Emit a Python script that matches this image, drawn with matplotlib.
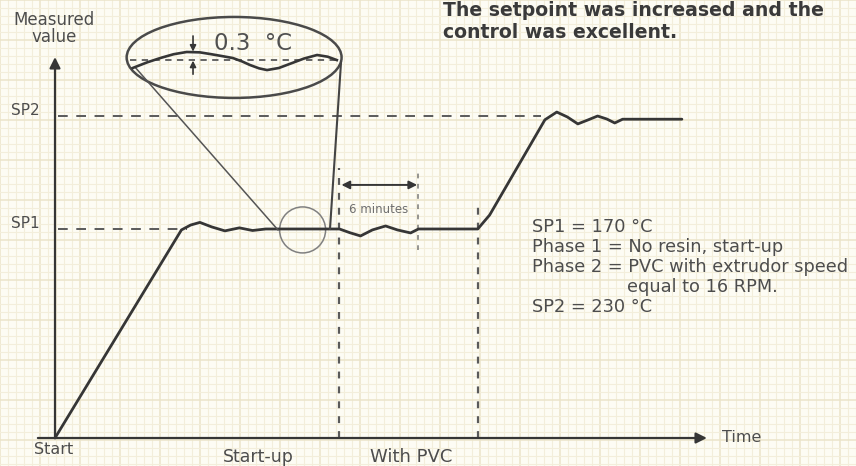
import matplotlib
matplotlib.use("Agg")
import matplotlib.pyplot as plt
from matplotlib.patches import Ellipse
from matplotlib.ticker import MultipleLocator

# ---------------- data (time in minutes, value in °C) ----------------
sp1 = 170
sp2 = 230
sp_labels = ["SP1", "SP2"]

t_curve = [0, 9.6, 10.3, 11.0, 11.9, 12.9, 14.0, 15.0, 16.0, 21.6, 22.4, 23.2,
           24.1, 25.1, 26.0, 27.0, 27.6, 32.1, 33.0, 37.2, 38.1, 38.9, 39.7,
           40.5, 41.2, 41.9, 42.5, 43.1, 47.6]
y_curve = [59, 169.5, 172.1, 173.5, 171.1, 169.0, 170.6, 169.2, 170, 170, 168.0,
           166.3, 169.5, 171.6, 169.5, 167.9, 170, 170, 177.4, 228, 232.1, 229.5,
           225.8, 228, 230.0, 228.4, 226.3, 228.3, 228.3]

# magnified detail (drawn inside the ellipse)
zoom_t = [5.9, 7.0, 8.0, 9.0, 10.0, 11.0, 11.8, 12.7, 13.5, 14.2, 14.8, 15.5,
          16.1, 17.0, 17.8, 18.9, 19.9, 20.7, 21.4]
zoom_y = [255.5, 258.5, 260.8, 262.8, 264.0, 263.8, 262.9, 261.8, 260.8, 259.0,
          257.1, 255.3, 254.4, 255.5, 257.6, 260.5, 262.4, 261.5, 259.7]
zoom_base = 259.7
zoom_span = [5.7, 21.4]
amp_label = "0.3  °C"

origin_value = 59
t_pvc = 21.6          # start of PVC phase
t_six = 27.6          # 6 minutes later
t_step = 32.1         # setpoint increased

notes = ["SP1 = 170 °C",
         "Phase 1 = No resin, start-up",
         "Phase 2 = PVC with extrudor speed",
         "equal to 16 RPM.",
         "SP2 = 230 °C"]
notes_x = [532, 532, 532, 627, 532]
title_lines = ["The setpoint was increased and the", "control was excellent."]

# ---------------- figure ----------------
W, H = 856, 466
fig = plt.figure(figsize=(W / 100, H / 100), dpi=100)

# graph paper background
bg = fig.add_axes([0, 0, 1, 1])
bg.set_xlim(0, W)
bg.set_ylim(H, 0)
bg.set_facecolor("#fdfcf4")
bg.xaxis.set_major_locator(MultipleLocator(40))
bg.yaxis.set_major_locator(MultipleLocator(40))
bg.xaxis.set_minor_locator(MultipleLocator(8))
bg.yaxis.set_minor_locator(MultipleLocator(8))
bg.grid(which="minor", color="#f3eedb", lw=0.8)
bg.grid(which="major", color="#ebe4c9", lw=1.1)
bg.tick_params(which="both", length=0, labelbottom=False, labelleft=False)
for s in bg.spines.values():
    s.set_visible(False)

# main drawing axes (data coordinates)
px_per_t = 13.17
px_per_v = 1.883
x0_px, y0_px = 55, 438
ax = fig.add_axes([0, 0, 1, 1])
ax.set_xlim(-x0_px / px_per_t, (W - x0_px) / px_per_t)
ax.set_ylim(origin_value - (H - y0_px) / px_per_v, origin_value + y0_px / px_per_v)
ax.patch.set_alpha(0)
ax.axis("off")

ink = "#363636"
dash_ink = "#5a5a5a"
txt = "#4d4d4d"
light = "#6e6e6e"

# axes with arrows
t_end = 49.5
v_top = 261.3
ax.annotate("", xy=(t_end, origin_value), xytext=(-1.3, origin_value),
            arrowprops=dict(arrowstyle="-|>", color=ink, lw=1.6, mutation_scale=16,
                            shrinkA=0, shrinkB=0))
ax.annotate("", xy=(0, v_top), xytext=(0, origin_value),
            arrowprops=dict(arrowstyle="-|>", color=ink, lw=1.6, mutation_scale=16,
                            shrinkA=0, shrinkB=0))

# setpoint dashed lines
ax.plot([0.25, 36.9], [sp2, sp2], ls=(0, (5, 4.4)), color=dash_ink, lw=1.4)
ax.plot([0.25, 10.0], [sp1, sp1], ls=(0, (5, 4.4)), color=dash_ink, lw=1.4)

# phase separators
vdash = (0, (3.1, 3.6))
ax.plot([t_pvc, t_pvc], [origin_value, 202.4], ls=vdash, color=dash_ink, lw=1.6)
ax.plot([t_six, t_six], [158.8, 200.3], ls=vdash, color=dash_ink, lw=1.1, alpha=0.8)
ax.plot([t_step, t_step], [origin_value, 185.4], ls=vdash, color=dash_ink, lw=1.6)

# 6 minutes arrow
ax.annotate("", xy=(t_six - 0.1, 193.4), xytext=(t_pvc + 0.15, 193.4),
            arrowprops=dict(arrowstyle="<|-|>", color=ink, lw=1.4, mutation_scale=12,
                            shrinkA=0, shrinkB=0))
ax.text((t_pvc + t_six) / 2, 180.6, "6 minutes", fontsize=8.5, color=light,
        ha="center", va="center")

# measured curve
ax.plot(t_curve, y_curve, color=ink, lw=2.0, solid_joinstyle="round",
        solid_capstyle="round")

# small circle and magnifier ellipse
ax.add_patch(Ellipse((18.8, 169.5), 46 / px_per_t, 46 / px_per_v, fill=False,
                     ec="#808080", lw=1.1))
ax.add_patch(Ellipse((13.6, 261.1), 16.32, 43.0, fill=False, ec="#4a4a4a", lw=1.8))
ax.plot([6.07, 16.93], [256.0, 169.5], color="#555555", lw=1.1)
ax.plot([21.72, 20.88], [258.7, 170.0], color="#444444", lw=1.5)

ax.plot(zoom_span, [zoom_base, zoom_base], ls=(0, (3.5, 3)), color=dash_ink, lw=1.3)
ax.plot(zoom_t, zoom_y, color=ink, lw=1.9, solid_joinstyle="round")
ax.annotate("", xy=(10.48, 264.2), xytext=(10.48, 272.5),
            arrowprops=dict(arrowstyle="-|>", color=ink, lw=1.2, mutation_scale=9,
                            shrinkA=0, shrinkB=0))
ax.annotate("", xy=(10.48, 259.4), xytext=(10.48, 252.2),
            arrowprops=dict(arrowstyle="-|>", color=ink, lw=1.2, mutation_scale=9,
                            shrinkA=0, shrinkB=0))
ax.text(12.05, 268.6, amp_label, fontsize=16.5, color="#505050", ha="left", va="center")

# axis texts
ax.text(-1.2, sp2 + 3, sp_labels[1], fontsize=11, color=txt, ha="right", va="center")
ax.text(-1.2, sp1 + 3, sp_labels[0], fontsize=11, color=txt, ha="right", va="center")


def fx(px):
    return px / W


def fy(py):
    return 1 - py / H


fig.text(fx(54), fy(20), "Measured", fontsize=12, color=txt, ha="center", va="center")
fig.text(fx(54), fy(37), "value", fontsize=12, color=txt, ha="center", va="center")
fig.text(fx(54), fy(450), "Start", fontsize=11.5, color=txt, ha="center", va="center")
fig.text(fx(258), fy(457), "Start-up", fontsize=12.5, color=txt, ha="center", va="center")
fig.text(fx(411), fy(457), "With PVC", fontsize=13, color=txt, ha="center", va="center")
fig.text(fx(722), fy(438), "Time", fontsize=11.5, color=txt, ha="left", va="center")

for i, line in enumerate(notes):
    fig.text(fx(notes_x[i]), fy(227 + 20 * i), line, fontsize=12.8, color=txt,
             ha="left", va="center")

for i, line in enumerate(title_lines):
    fig.text(fx(443), fy(11 + 21 * i), line, fontsize=13.6, color="#3a3a3a",
             ha="left", va="center", fontweight="bold", family="DejaVu Sans")

fig.savefig("out.png", dpi=100)
